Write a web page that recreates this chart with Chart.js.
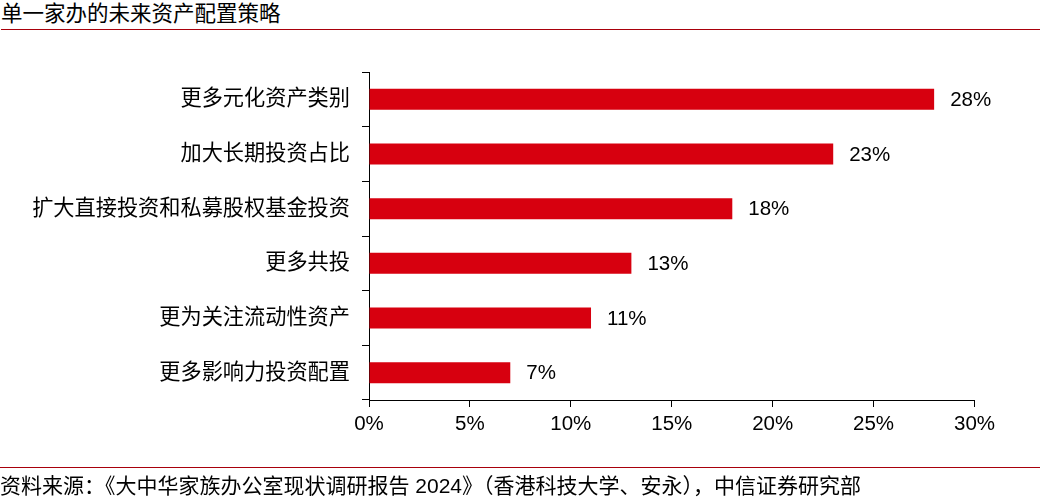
<!DOCTYPE html>
<html>
<head>
<meta charset="utf-8">
<script src="https://cdn.jsdelivr.net/npm/chart.js@4"></script>
<style>
    html, body {
        margin: 0;
        padding: 0;
        background: #fff;
    }
    body {
        position: relative;
        width: 1040px;
        height: 501px;
        overflow: hidden;
        font-family: "Liberation Sans", Arial, "Noto Sans CJK SC", sans-serif;
        color: #000;
    }
    #title {
        position: absolute;
        left: 1px;
        top: 0;
        width: 1039px;
        height: 29px;
        line-height: 29px;
        font-size: 21.5px;
        border-bottom: 1px solid #a8000b;
        white-space: nowrap;
    }
    #source {
        position: absolute;
        left: 0;
        top: 467px;
        width: 1040px;
        height: 34px;
        line-height: 36px;
        font-size: 21px;
        border-top: 1px solid #a8000b;
        white-space: nowrap;
    }
    #chart-wrap {
        position: absolute;
        left: 0;
        top: 0;
        width: 1040px;
        height: 501px;
    }
</style>
</head>
<body>
<div id="title">单一家办的未来资产配置策略</div>
<div id="chart-wrap"><canvas id="strategy-chart"></canvas></div>
<div id="source">资料来源：《大中华家族办公室现状调研报告 2024》（香港科技大学、安永），中信证券研究部</div>

<script>
const categories = [
    '更多元化资产类别',
    '加大长期投资占比',
    '扩大直接投资和私募股权基金投资',
    '更多共投',
    '更为关注流动性资产',
    '更多影响力投资配置',
];
const shares = [28, 23, 18, 13, 11, 7];
const xTicks = [0, 5, 10, 15, 20, 25, 30];

const fontFamily = '"Liberation Sans", Arial, "Noto Sans CJK SC", sans-serif';
const barColor = '#d7000f';

const valueLabels = {
    id: 'valueLabels',
    afterDatasetsDraw(chart) {
        const ctx = chart.ctx;
        const meta = chart.getDatasetMeta(0);
        ctx.save();
        ctx.font = `20.5px ${fontFamily}`;
        ctx.fillStyle = '#000';
        ctx.textAlign = 'left';
        ctx.textBaseline = 'middle';
        meta.data.forEach((bar, i) => {
            ctx.fillText(`${shares[i]}%`, bar.x + 16, bar.y + 1);
        });
        ctx.restore();
    },
};

function buildChart() {
    const ctx = document.getElementById('strategy-chart').getContext('2d');
    return new Chart(ctx, {
        type: 'bar',
        data: {
            labels: categories,
            datasets: [
                {
                    data: shares,
                    backgroundColor: barColor,
                    borderWidth: 0,
                    barPercentage: 0.385,
                    categoryPercentage: 1,
                },
            ],
        },
        options: {
            indexAxis: 'y',
            responsive: true,
            maintainAspectRatio: false,
            animation: false,
            layout: {
                padding: {top: 72, right: 65.5, bottom: 0, left: 0},
            },
            plugins: {
                legend: {display: false},
                tooltip: {enabled: false},
            },
            scales: {
                x: {
                    min: 0,
                    max: 30,
                    afterBuildTicks(axis) {
                        axis.ticks = xTicks.map((value) => ({value}));
                    },
                    afterFit(axis) {
                        axis.height = 101;
                    },
                    border: {display: true, color: '#000', width: 1},
                    grid: {
                        drawOnChartArea: false,
                        drawTicks: true,
                        tickLength: 7,
                        color: '#000',
                    },
                    ticks: {
                        padding: 5,
                        color: '#000',
                        font: {family: fontFamily, size: 20.5},
                        callback(value) {
                            return `${value}%`;
                        },
                    },
                },
                y: {
                    afterFit(axis) {
                        axis.width = 369;
                    },
                    border: {display: true, color: '#000', width: 1},
                    grid: {
                        offset: true,
                        drawOnChartArea: false,
                        drawTicks: true,
                        tickLength: 7,
                        color: '#000',
                    },
                    ticks: {
                        padding: 12,
                        color: '#000',
                        font: {family: fontFamily, size: 21.2},
                    },
                },
            },
        },
        plugins: [valueLabels],
    });
}

document.addEventListener('DOMContentLoaded', buildChart);
</script>
</body>
</html>
